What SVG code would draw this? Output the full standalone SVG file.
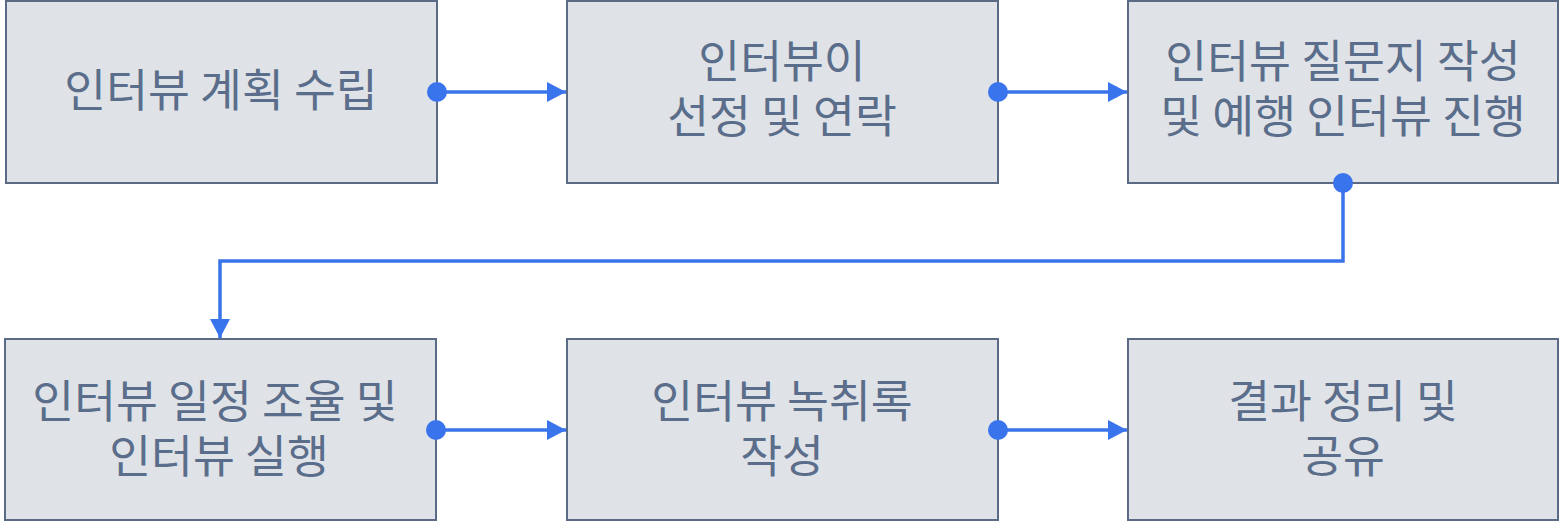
<svg xmlns="http://www.w3.org/2000/svg" width="1560" height="522" viewBox="0 0 1560 522">
<defs>
<style>
.box{fill:#dfe2e7;stroke:#5b6b86;stroke-width:2}
.lbl{font-family:"Noto Sans CJK KR","Noto Sans",sans-serif;font-size:45.5px;fill:#5a6d8a;text-anchor:middle}
.con{fill:none;stroke:#3a74ec;stroke-width:3.5}
.dot{fill:#3a74ec}
</style>
<marker id="arr" markerUnits="userSpaceOnUse" markerWidth="20" markerHeight="20" viewBox="0 0 20 20" refX="19" refY="10" orient="auto">
<path d="M0,0 L19,10 L0,20 Z" fill="#3a74ec"/>
</marker>
</defs>
<rect width="1560" height="522" fill="#ffffff"/>
<g id="n1"><rect class="box" x="6" y="1" width="431" height="182"/><text class="lbl" x="221" y="107">인터뷰 계획 수립</text></g>
<g id="n2"><rect class="box" x="567" y="1" width="431" height="182"/><text class="lbl" x="782" y="78">인터뷰이</text><text class="lbl" x="782" y="133">선정 및 연락</text></g>
<g id="n3"><rect class="box" x="1128" y="1" width="430" height="182"/><text class="lbl" x="1343" y="78">인터뷰 질문지 작성</text><text class="lbl" x="1343" y="133">및 예행 인터뷰 진행</text></g>
<g id="n4"><rect class="box" x="5" y="339" width="431" height="181"/><text class="lbl" x="215" y="418">인터뷰 일정 조율 및</text><text class="lbl" x="219" y="473">인터뷰 실행</text></g>
<g id="n5"><rect class="box" x="567" y="339" width="431" height="181"/><text class="lbl" x="782" y="418">인터뷰 녹취록</text><text class="lbl" x="782" y="473">작성</text></g>
<g id="n6"><rect class="box" x="1128" y="339" width="430" height="181"/><text class="lbl" x="1343" y="418">결과 정리 및</text><text class="lbl" x="1343" y="473">공유</text></g>
<g id="connectors">
<path class="con" d="M437,92 H566" marker-end="url(#arr)"/>
<circle class="dot" cx="437" cy="92" r="10"/>
<path class="con" d="M998,92 H1127" marker-end="url(#arr)"/>
<circle class="dot" cx="998" cy="92" r="10"/>
<path class="con" d="M1343,183 V261 H220 V338" marker-end="url(#arr)"/>
<circle class="dot" cx="1343" cy="183" r="10"/>
<path class="con" d="M436,430 H566" marker-end="url(#arr)"/>
<circle class="dot" cx="436" cy="430" r="10"/>
<path class="con" d="M998,430 H1127" marker-end="url(#arr)"/>
<circle class="dot" cx="998" cy="430" r="10"/>
</g>
</svg>
